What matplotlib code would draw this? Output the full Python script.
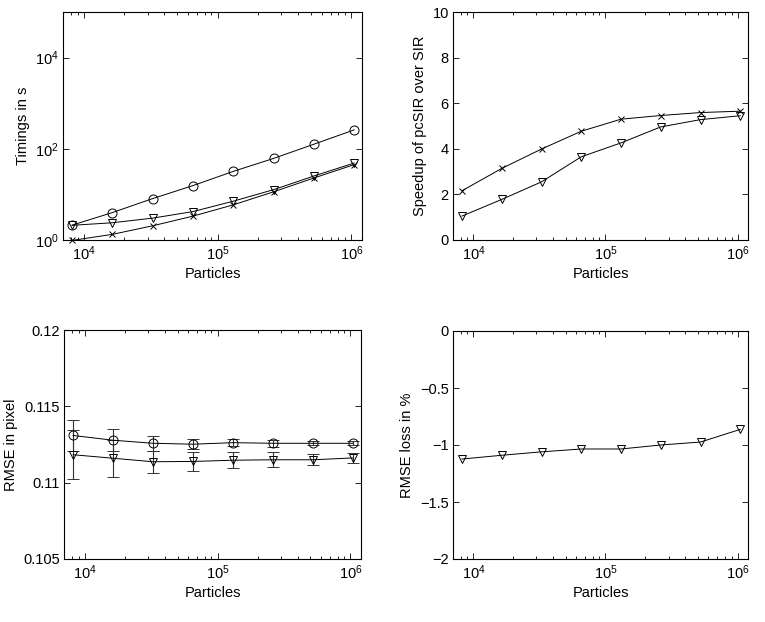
import matplotlib
matplotlib.use('Agg')
import matplotlib.pyplot as plt
from matplotlib.ticker import FixedLocator, LogLocator, FuncFormatter, NullLocator, LogFormatterSciNotation

plt.rcParams['font.family'] = ['Liberation Sans', 'DejaVu Sans']
plt.rcParams['mathtext.default'] = 'regular'
plt.rcParams['font.size'] = 10.5

# ---- data ----
particles = [8192, 16384, 32768, 65536, 131072, 262144, 524288, 1048576]

time_sir = [2.12, 4.0, 8.1, 15.6, 32, 61.5, 126, 260]
time_tri = [2.1, 2.39, 3.02, 4.2, 7.1, 12.7, 25.3, 48.7]
time_x = [0.98, 1.33, 2.05, 3.34, 5.9, 11.4, 22.9, 44.9]

speedup_x = [2.16, 3.14, 3.99, 4.77, 5.30, 5.46, 5.59, 5.65]
speedup_tri = [1.05, 1.78, 2.55, 3.65, 4.26, 4.96, 5.28, 5.45]

rmse_o = [0.11309, 0.11278, 0.11258, 0.11252, 0.11262, 0.11258, 0.11258, 0.11258]
rmse_o_err = [0.00102, 0.00071, 0.00050, 0.00034, 0.00025, 0.00022, 0.00013, 0.00013]
rmse_tri = [0.11183, 0.11160, 0.11137, 0.11139, 0.11147, 0.11150, 0.11150, 0.11162]
rmse_tri_err = [0.00162, 0.00121, 0.00072, 0.00060, 0.00052, 0.00049, 0.00035, 0.00031]

loss = [-1.123, -1.09, -1.06, -1.035, -1.035, -1.0, -0.974, -0.863]

x_ticks = [1e4, 1e5, 1e6]
xlim = (7000, 1.2e6)

fig = plt.figure(figsize=(7.65, 6.22), dpi=100)

ax1 = fig.add_axes([63/765, 1-240/622, 299/765, 228/622])
ax2 = fig.add_axes([453/765, 1-240/622, 295/765, 228/622])
ax3 = fig.add_axes([64/765, 1-559/622, 297/765, 229/622])
ax4 = fig.add_axes([453/765, 1-559/622, 295/765, 228/622])

line_kw = dict(color='black', linewidth=0.7, markerfacecolor='none',
               markeredgecolor='black', markeredgewidth=0.7, clip_on=False)
MS_O, MS_V, MS_X = 6.5, 5.8, 4.5

def gfmt(v, pos):
    s = '%g' % v
    return s.replace('-', '\u2212')

def style(ax, ylabel):
    ax.set_xscale('log')
    ax.set_xlim(*xlim)
    ax.xaxis.set_major_locator(FixedLocator(x_ticks))
    ax.xaxis.set_minor_locator(LogLocator(base=10, subs=range(2, 10), numticks=20))
    ax.xaxis.set_major_formatter(LogFormatterSciNotation())
    ax.tick_params(which='both', direction='in', top=True, right=True, width=0.6)
    ax.tick_params(which='major', length=4, pad=3)
    ax.tick_params(which='minor', length=2)
    for sp in ax.spines.values():
        sp.set_linewidth(0.8)
    ax.set_xlabel('Particles', labelpad=3)
    ax.set_ylabel(ylabel, labelpad=4)

# Timings
ax1.plot(particles, time_sir, marker='o', markersize=MS_O, **line_kw)
ax1.plot(particles, time_tri, marker='v', markersize=MS_V, **line_kw)
ax1.plot(particles, time_x, marker='x', markersize=MS_X, **line_kw)
style(ax1, 'Timings in s')
ax1.set_yscale('log')
ax1.set_ylim(1, 1e5)
ax1.yaxis.set_major_locator(FixedLocator([1, 1e2, 1e4]))
ax1.yaxis.set_minor_locator(NullLocator())
ax1.yaxis.set_major_formatter(LogFormatterSciNotation())

# Speedup
ax2.plot(particles, speedup_x, marker='x', markersize=MS_X, **line_kw)
ax2.plot(particles, speedup_tri, marker='v', markersize=MS_V, **line_kw)
style(ax2, 'Speedup of pcSIR over SIR')
ax2.set_ylim(0, 10)
ax2.yaxis.set_major_locator(FixedLocator([0, 2, 4, 6, 8, 10]))
ax2.yaxis.set_major_formatter(FuncFormatter(gfmt))

# RMSE
eb_kw = dict(color='black', linewidth=0.7, markerfacecolor='none', markeredgecolor='black',
             markeredgewidth=0.7, ecolor='#333333', elinewidth=0.8, capsize=4.3, capthick=0.8)
ax3.errorbar(particles, rmse_o, yerr=rmse_o_err, marker='o', markersize=MS_O, **eb_kw)
ax3.errorbar(particles, rmse_tri, yerr=rmse_tri_err, marker='v', markersize=MS_V, **eb_kw)
style(ax3, 'RMSE in pixel')
ax3.set_ylim(0.105, 0.12)
ax3.yaxis.set_major_locator(FixedLocator([0.105, 0.11, 0.115, 0.12]))
ax3.yaxis.set_major_formatter(FuncFormatter(gfmt))

# RMSE loss
ax4.plot(particles, loss, marker='v', markersize=MS_V, **line_kw)
style(ax4, 'RMSE loss in %')
ax4.set_ylim(-2, 0)
ax4.yaxis.set_major_locator(FixedLocator([-2, -1.5, -1, -0.5, 0]))
ax4.yaxis.set_major_formatter(FuncFormatter(gfmt))

fig.savefig('out.png', dpi=100)
